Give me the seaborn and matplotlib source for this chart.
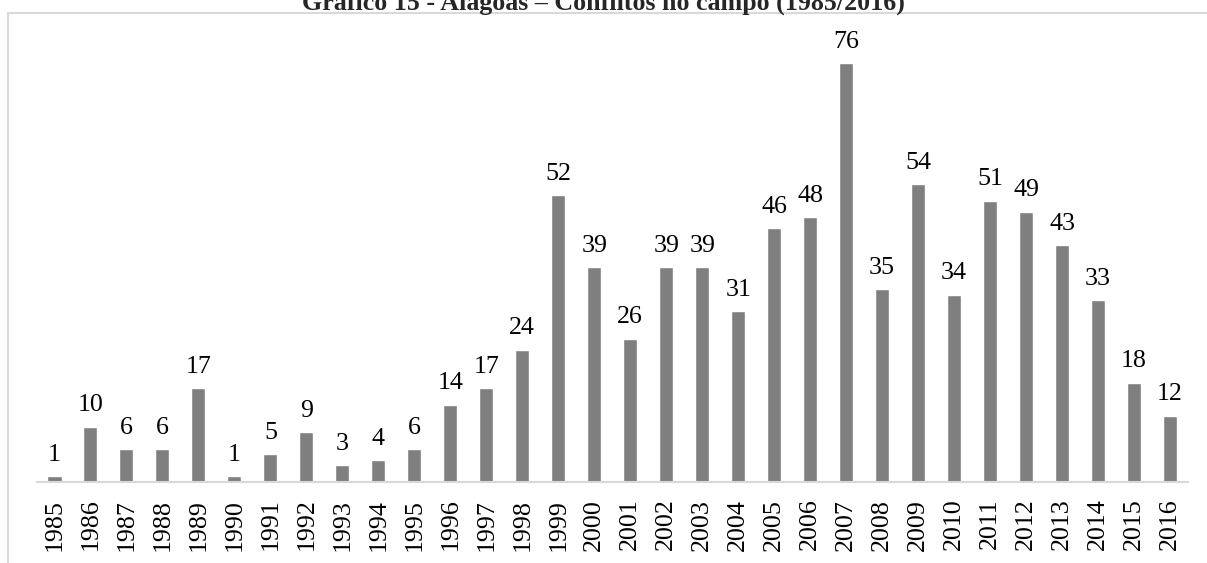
import matplotlib
matplotlib.use("Agg")
import matplotlib.pyplot as plt
import seaborn as sns
import pandas as pd
from matplotlib.patches import Rectangle

# Data
years = [str(y) for y in range(1985, 2017)]
conflitos = [1, 10, 6, 6, 17, 1, 5, 9, 3, 4, 6, 14, 17, 24, 52, 39, 26, 39, 39, 31,
             46, 48, 76, 35, 54, 34, 51, 49, 43, 33, 18, 12]
title = "Gráfico 15 - Alagoas – Conflitos no campo (1985/2016)"

df = pd.DataFrame({"ano": years, "conflitos": conflitos})

sns.set_theme(style="white")
plt.rcParams['font.family'] = ['Liberation Serif', 'DejaVu Serif']

W, H = 1207, 563
fig = plt.figure(figsize=(W / 100, H / 100), dpi=100)
ax = fig.add_axes([36.5 / W, 1 - 482 / H, (1188 - 36.5) / W, (482 - 41) / H])

sns.barplot(data=df, x="ano", y="conflitos", color="#7f7f7f", width=0.39,
            saturation=1, ax=ax)
ax.bar_label(ax.containers[0], fontsize=18.7, padding=7.5, color="#000000")

ax.set_xlim(-0.5, len(years) - 0.5)
ax.set_ylim(0, 80)
ax.set_xlabel("")
ax.set_ylabel("")
ax.set_yticks([])
ax.tick_params(axis="x", labelrotation=90, labelsize=18.7, pad=12, length=0,
               colors="#000000")
for s in ["top", "right", "left"]:
    ax.spines[s].set_visible(False)
ax.spines["bottom"].set_color("#d9d9d9")
ax.spines["bottom"].set_linewidth(1.5)

# outer chart frame
fig.patches.append(Rectangle((7.5 / W, -0.05), 1.2, 1 - 12.5 / H + 0.05,
                             transform=fig.transFigure, fill=False,
                             edgecolor="#d9d9d9", linewidth=1.5))

fig.text(0.5, 1 - 9.5 / H, title, ha="center", va="baseline",
         fontsize=18.7, fontweight="bold")

fig.savefig("out.png", dpi=100)
